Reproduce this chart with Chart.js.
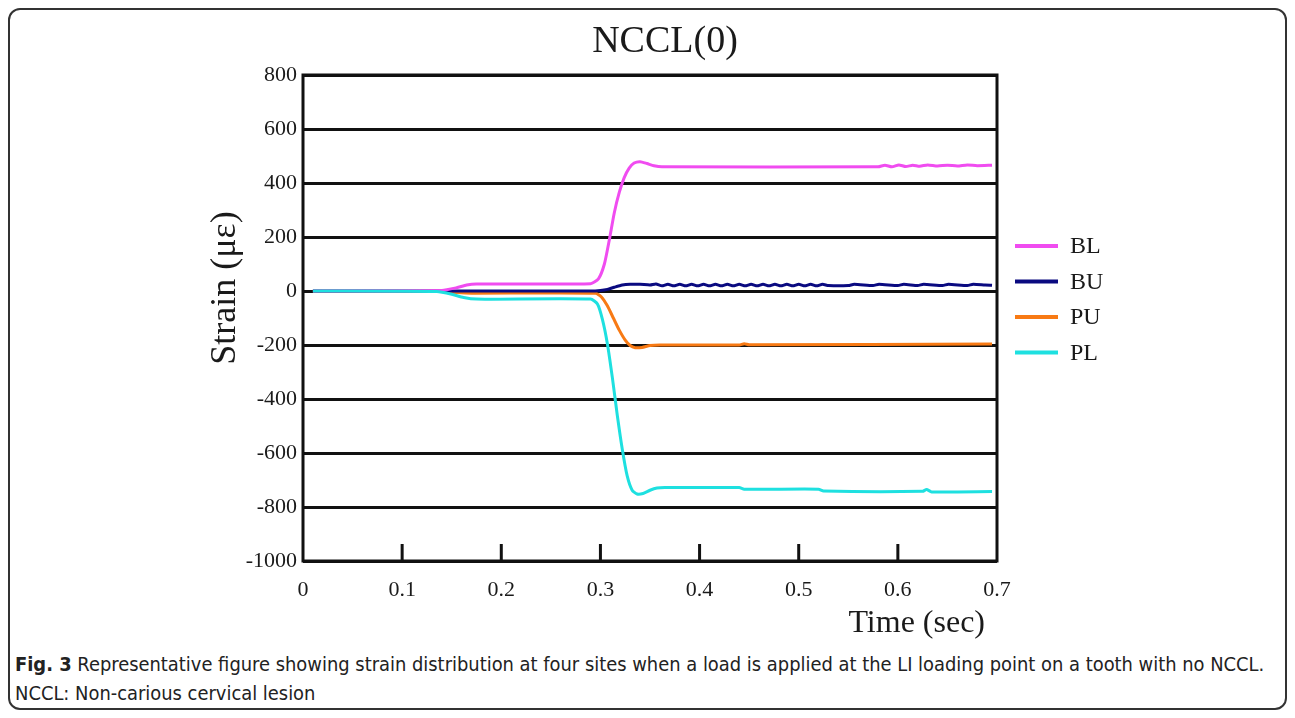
<!DOCTYPE html>
<html>
<head>
<meta charset="utf-8">
<script src="https://cdn.jsdelivr.net/npm/chart.js@4/dist/chart.umd.min.js"></script>
<style>
  body { margin: 0; background: #fff; }
  #frame {
    position: absolute; left: 8px; top: 8px; width: 1275px; height: 698px;
    border: 2px solid #333; border-radius: 12px;
  }
  #wrap { position: absolute; left: 0; top: 0; width: 1295px; height: 650px; }
  #caption {
    position: absolute; left: 15px; top: 650px; width: 1270px;
    font-family: "Liberation Sans Narrow", "DejaVu Sans Condensed", sans-serif;
    font-size: 19.9px; line-height: 29px; color: #222; white-space: nowrap;
  }
</style>
</head>
<body>
<div id="frame"></div>
<div id="wrap"><canvas id="strainChart"></canvas></div>
<div id="caption"><b>Fig. 3</b> Representative figure showing strain distribution at four sites when a load is applied at the LI loading point on a tooth with no NCCL.<br>NCCL: Non-carious cervical lesion</div>
<script>
'use strict';

var chartTitle = 'NCCL(0)';
var seriesNames = ['BL', 'BU', 'PU', 'PL'];
var seriesColors = ['#f04cf0', '#0a0a80', '#f87a14', '#1ee0e0'];
var yTicks = [-1000, -800, -600, -400, -200, 0, 200, 400, 600, 800];
var xTicks = [0, 0.1, 0.2, 0.3, 0.4, 0.5, 0.6, 0.7];

// BL (buccal lower)
var blTime = [0.01, 0.14, 0.155, 0.165, 0.175, 0.29, 0.298, 0.304, 0.309, 0.314, 0.319, 0.324, 0.329, 0.334, 0.34, 0.347, 0.354, 0.362,
  0.58, 0.587, 0.594, 0.601, 0.608, 0.615, 0.622, 0.63, 0.64, 0.65, 0.66, 0.67, 0.68, 0.695];
var blStrain = [0, 2, 12, 22, 26, 27, 45, 100, 190, 290, 365, 420, 455, 474, 479, 472, 464, 460,
  460, 466, 460, 467, 461, 466, 462, 467, 463, 466, 463, 467, 464, 466];

// BU (buccal upper)
var buTime = [0.01, 0.29, 0.3, 0.307, 0.314, 0.322, 0.33, 0.34, 0.35, 0.356, 0.362, 0.368, 0.374, 0.38, 0.386, 0.392, 0.398, 0.404,
  0.41, 0.416, 0.422, 0.428, 0.434, 0.44, 0.446, 0.452, 0.458, 0.464, 0.47, 0.476, 0.482, 0.488, 0.494, 0.5, 0.506, 0.512, 0.518,
  0.524, 0.53, 0.55, 0.556, 0.575, 0.581, 0.6, 0.606, 0.62, 0.626, 0.645, 0.651, 0.67, 0.676, 0.688, 0.695];
var buStrain = [0, 0, 2, 6, 14, 22, 25, 25, 22, 26, 19, 25, 19, 25, 19, 25, 19, 25,
  19, 25, 19, 25, 19, 25, 19, 25, 19, 25, 19, 25, 19, 25, 19, 25, 19, 25, 19,
  25, 20, 20, 25, 20, 25, 20, 25, 20, 25, 20, 25, 20, 25, 22, 21];

// PU (palatal upper)
var puTime = [0.01, 0.14, 0.155, 0.17, 0.295, 0.301, 0.307, 0.313, 0.319, 0.325, 0.33, 0.335, 0.342, 0.35, 0.36, 0.44, 0.445, 0.45, 0.695];
var puStrain = [0, -2, -6, -8, -8, -22, -55, -100, -145, -182, -202, -210, -209, -202, -200, -200, -195, -199, -196];

// PL (palatal lower)
var plTime = [0.01, 0.135, 0.15, 0.162, 0.175, 0.29, 0.297, 0.302, 0.307, 0.312, 0.317, 0.322, 0.327, 0.332, 0.337, 0.343, 0.35, 0.357, 0.365,
  0.44, 0.445, 0.52, 0.525, 0.625, 0.629, 0.634, 0.695];
var plStrain = [0, -2, -12, -24, -30, -30, -48, -105, -195, -320, -460, -585, -685, -738, -752, -750, -738, -730, -728,
  -728, -734, -734, -741, -742, -735, -744, -743];

var allTimes = [blTime, buTime, puTime, plTime];
var allStrains = [blStrain, buStrain, puStrain, plStrain];
var drawOrder = [1, 2, 3, 0];

var serif = '"Liberation Serif", "Times New Roman", serif';

var makeDatasets = function () {
  var sets = [];
  for (var i = 0; i < seriesNames.length; i++) {
    var pts = [];
    for (var j = 0; j < allTimes[i].length; j++) {
      pts.push({ x: allTimes[i][j], y: allStrains[i][j] });
    }
    sets.push({
      label: seriesNames[i],
      data: pts,
      borderColor: seriesColors[i],
      backgroundColor: seriesColors[i],
      borderWidth: 3,
      pointRadius: 0,
      tension: 0.2,
      order: drawOrder[i],
    });
  }
  return sets;
};

// frame, inside x ticks, title, axis titles and legend
var figureDecor = {
  id: 'figureDecor',
  beforeDatasetsDraw: function (chart) {
    var ctx = chart.ctx;
    var area = chart.chartArea;
    var xs = chart.scales.x;
    ctx.save();
    ctx.strokeStyle = '#111';
    ctx.lineWidth = 3;
    ctx.strokeRect(area.left, area.top, area.right - area.left, area.bottom - area.top);
    for (var i = 1; i < xTicks.length - 1; i++) {
      var px = xs.getPixelForValue(xTicks[i]);
      ctx.beginPath();
      ctx.moveTo(px, area.bottom);
      ctx.lineTo(px, area.bottom - 17);
      ctx.stroke();
    }
    ctx.restore();
  },
  afterDraw: function (chart) {
    var ctx = chart.ctx;
    var area = chart.chartArea;
    ctx.save();
    ctx.fillStyle = '#1a1a1a';
    ctx.textBaseline = 'middle';

    ctx.font = '38px ' + serif;
    ctx.textAlign = 'center';
    ctx.fillText(chartTitle, 665, 42);

    ctx.font = '32px ' + serif;
    ctx.textAlign = 'right';
    ctx.fillText('Time (sec)', 985, 624);

    ctx.save();
    ctx.translate(226, 288);
    ctx.rotate(-Math.PI / 2);
    ctx.textAlign = 'center';
    ctx.font = '36px ' + serif;
    ctx.fillText('Strain (\u03bc\u03b5)', 0, 0);
    ctx.restore();

    ctx.font = '24px ' + serif;
    ctx.textAlign = 'left';
    for (var i = 0; i < seriesNames.length; i++) {
      var ly = 246 + i * 35.5;
      ctx.strokeStyle = seriesColors[i];
      ctx.lineWidth = 4;
      ctx.beginPath();
      ctx.moveTo(area.right + 18, ly);
      ctx.lineTo(area.right + 61, ly);
      ctx.stroke();
      ctx.fillText(seriesNames[i], area.right + 73, ly + 1);
    }
    ctx.restore();
  },
};

var ctx = document.getElementById('strainChart').getContext('2d');
var strainChart = new Chart(ctx, {
  type: 'line',
  data: { datasets: makeDatasets() },
  options: {
    responsive: true,
    maintainAspectRatio: false,
    animation: false,
    layout: { padding: { top: 75, right: 298, bottom: 0, left: 0 } },
    plugins: {
      legend: { display: false },
      title: { display: false },
      tooltip: { enabled: false },
    },
    scales: {
      x: {
        type: 'linear',
        min: 0,
        max: 0.7,
        afterFit: function (scale) { scale.height = 89; },
        afterBuildTicks: function (scale) {
          scale.ticks = xTicks.map(function (v) { return { value: v }; });
        },
        ticks: {
          padding: 8,
          color: '#1a1a1a',
          font: { family: serif, size: 22 },
          callback: function (v) { return Number(v.toFixed(1)).toString(); },
        },
        grid: { display: false },
        border: { display: false },
      },
      y: {
        min: -1000,
        max: 800,
        afterFit: function (scale) { scale.width = 303; },
        afterBuildTicks: function (scale) {
          scale.ticks = yTicks.map(function (v) { return { value: v }; });
        },
        ticks: {
          padding: 6,
          color: '#1a1a1a',
          font: { family: serif, size: 22 },
          callback: function (v) { return String(v); },
        },
        grid: { color: '#111', lineWidth: 3, drawTicks: false },
        border: { display: false },
      },
    },
  },
  plugins: [figureDecor],
});
</script>
</body>
</html>
